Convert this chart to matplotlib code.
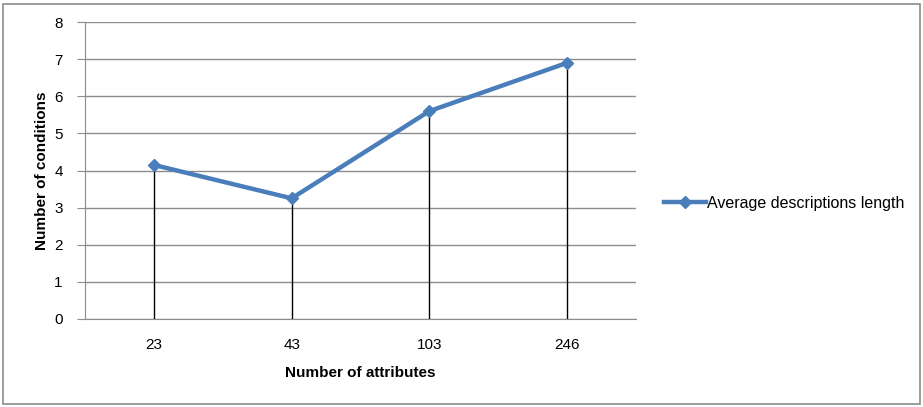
import matplotlib.pyplot as plt
from matplotlib.patches import Rectangle

categories = ["23", "43", "103", "246"]
avg_length = [4.15, 3.25, 5.6, 6.9]
y_ticks = [0, 1, 2, 3, 4, 5, 6, 7, 8]

plt.rcParams['font.family'] = ['Liberation Sans Narrow', 'Liberation Sans', 'DejaVu Sans']

fig = plt.figure(figsize=(9.23, 4.07), dpi=100)
fig.patches.append(Rectangle((3 / 923, 3 / 407), 917 / 923, 400 / 407,
                             transform=fig.transFigure, fill=False,
                             edgecolor='#8c8c8c', linewidth=1.2))

ax = fig.add_axes([85 / 923, 88 / 407, 551 / 923, 297 / 407])
xs = [i + 0.5 for i in range(len(categories))]

# black drop lines from each point down to the axis
ax.vlines(xs, 0, avg_length, colors='black', linewidth=1, zorder=2)
ax.plot(xs, avg_length, color='#4a7ebb', linewidth=3.2, marker='D',
        markersize=6, label='Average descriptions length', zorder=3)

ax.set_xlim(0, 4)
ax.set_ylim(0, 8)
ax.set_yticks(y_ticks)
ax.set_xticks(xs)
ax.set_xticklabels(categories)
ax.yaxis.grid(True, color='#8c8c8c', linewidth=1)
ax.set_axisbelow(True)
for s in ['top', 'right']:
    ax.spines[s].set_visible(False)
ax.spines['left'].set_color('#8c8c8c')
ax.spines['bottom'].set_color('#8c8c8c')
ax.tick_params(axis='y', length=6, color='#8c8c8c', labelsize=11, pad=10)
ax.tick_params(axis='x', length=0, labelsize=11, pad=14)

ax.set_xlabel('Number of attributes', fontsize=11, fontweight='bold', labelpad=10)
ax.set_ylabel('Number of conditions', fontsize=11, fontweight='bold', labelpad=4)

fig.legend(*ax.get_legend_handles_labels(), loc='center left',
           bbox_to_anchor=(650 / 923, 0.5), frameon=False,
           fontsize=11.5, handlelength=2.6, handletextpad=0.05)

fig.savefig('out.png', dpi=100)
